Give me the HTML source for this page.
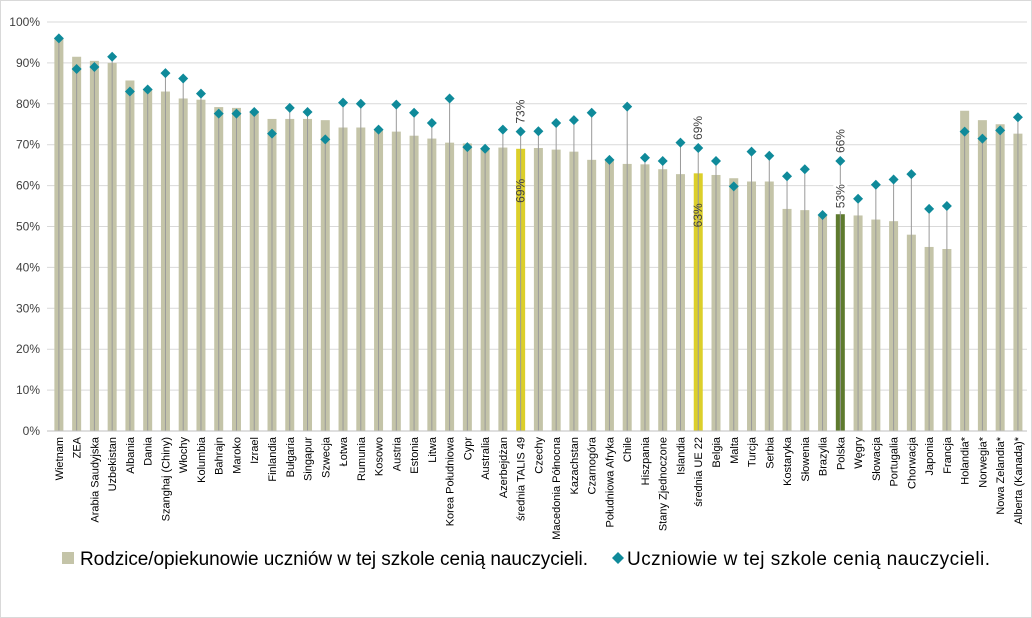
<!DOCTYPE html>
<html><head><meta charset="utf-8"><style>
body{margin:0;background:#fff;}
svg{display:block;font-family:"Liberation Sans",sans-serif;}
</style></head><body>
<svg id="c" width="1032" height="618" xmlns="http://www.w3.org/2000/svg">
<rect x="0.5" y="0.5" width="1031" height="617" fill="#fff" stroke="#d9d9d9"/>
</svg>
<script>
const d=[["Wietnam",96,96],["ZEA",91.5,88.5],["Arabia Saudyjska",90.5,89],["Uzbekistan",90,91.5],["Albania",85.7,83],["Dania",83.5,83.5],["Szanghaj (Chiny)",83,87.5],["Włochy",81.3,86.2],["Kolumbia",81,82.5],["Bahrajn",79.2,77.6],["Maroko",79,77.6],["Izrael",78,78],["Finlandia",76.3,72.7],["Bułgaria",76.3,79],["Singapur",76.3,78],["Szwecja",76,71.3],["Łotwa",74.2,80.3],["Rumunia",74.2,80],["Kosowo",73.7,73.7],["Austria",73.2,79.8],["Estonia",72.2,77.8],["Litwa",71.5,75.3],["Korea Południowa",70.5,81.3],["Cypr",70.3,69.4],["Australia",69.2,69],["Azerbejdżan",69.3,73.7],["średnia TALIS 49",69,73.2],["Czechy",69.2,73.3],["Macedonia Północna",68.8,75.3],["Kazachstan",68.3,76],["Czarnogóra",66.3,77.8],["Południowa Afryka",66.2,66.3],["Chile",65.3,79.3],["Hiszpania",65.2,66.8],["Stany Zjednoczone",64,66],["Islandia",62.8,70.5],["średnia UE 22",63,69.2],["Belgia",62.6,66],["Malta",61.8,59.8],["Turcja",61,68.3],["Serbia",61,67.3],["Kostaryka",54.3,62.3],["Słowenia",54,64],["Brazylia",52.6,52.8],["Polska",53,66],["Węgry",52.7,56.8],["Słowacja",51.7,60.2],["Portugalia",51.3,61.5],["Chorwacja",48,62.8],["Japonia",45,54.3],["Francja",44.5,55],["Holandia*",78.3,73.2],["Norwegia*",76,71.5],["Nowa Zelandia*",75,73.5],["Alberta (Kanada)*",72.7,76.7]];
const s=document.getElementById('c');let h='';
const y0=431,k=4.09,x0=50,w=17.76;
for(let i=0;i<=10;i++){const y=y0-i*10*k;h+=`<line x1="47" x2="1027" y1="${y}" y2="${y}" stroke="#d9d9d9"/>`;h+=`<text x="40" y="${y+4}" font-size="12" text-anchor="end" fill="#404040">${i*10}%</text>`;}
d.forEach((r,i)=>{const cx=x0+w*(i+0.5);const by=y0-r[1]*k,dy=y0-r[2]*k;
let col='#c4c4a8';if(r[0].startsWith('średnia'))col='#dccf2a';if(r[0]=='Polska')col='#5e7a2e';
h+=`<rect x="${cx-4.5}" y="${by}" width="9" height="${y0-by}" fill="${col}"/>`;
h+=`<line x1="${cx}" x2="${cx}" y1="${dy}" y2="${y0}" stroke="#9a9a9a" stroke-width="1"/>`;
if(r[0]=='Polska')h+=`<rect x="${cx-7}" y="${by-30}" width="14" height="27" fill="#fff"/>`;
h+=`<path d="M${cx} ${dy-5}L${cx+5} ${dy}L${cx} ${dy+5}L${cx-5} ${dy}Z" fill="#0f8a9a"/>`;
h+=`<text transform="translate(${cx+4},437) rotate(-90)" font-size="11" text-anchor="end" fill="#000">${r[0]}</text>`;
if(['średnia TALIS 49','średnia UE 22','Polska'].includes(r[0])){
 h+=`<text transform="translate(${cx+4},${dy-8}) rotate(-90)" font-size="12" fill="#404040">${Math.round(r[2])}%</text>`;
 h+=`<text transform="translate(${cx+4},${r[0]=='Polska'?by-6:by+30}) rotate(-90)" font-size="12" text-anchor="${r[0]=='Polska'?'start':'end'}" fill="#404040">${Math.round(r[1])}%</text>`;}
});
h+=`<line x1="47" x2="1027" y1="${y0}" y2="${y0}" stroke="#bfbfbf"/>`;
h+=`<rect x="62" y="552" width="12" height="12" fill="#c4c4a8"/><text x="80" y="565" font-size="19" textLength="508" fill="#000">Rodzice/opiekunowie uczniów w tej szkole cenią nauczycieli.</text>`;
h+=`<path d="M618 552L624 558L618 564L612 558Z" fill="#0f8a9a"/><text x="627" y="565" font-size="19" textLength="363" fill="#000">Uczniowie w tej szkole cenią nauczycieli.</text>`;
s.insertAdjacentHTML('beforeend',h);
</script>
</body></html>
